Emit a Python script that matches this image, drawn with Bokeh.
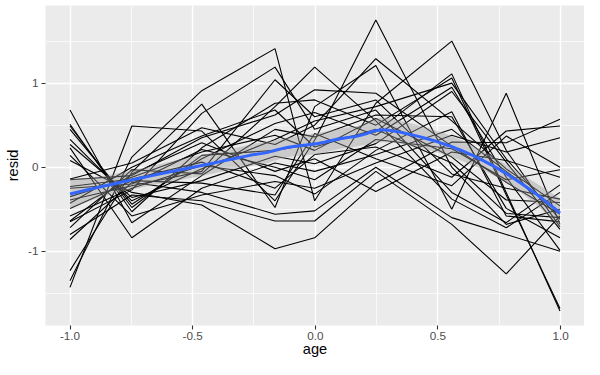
import numpy as np
from bokeh.plotting import figure
from bokeh.models import Range1d, FixedTicker, NumeralTickFormatter
from bokeh.embed import file_html
from bokeh.resources import INLINE

# ---- data ----
ages = [-1.0, -0.7479, -0.463, -0.1643, -0.0027, 0.2466, 0.5562, 0.7781, 0.9973]

s01 = [0.68, -0.66, -0.10, 0.45, 0.36, 0.62, 0.60, -0.49, -0.84]
s02 = [0.51, -0.53, 0.23, 0.76, 0.80, 0.50, 1.06, -0.33, -1.68]
s03 = [0.49, -0.48, 0.14, 0.20, 0.28, 0.42, 1.11, -0.30, -1.71]
s04 = [0.45, -0.44, 0.10, 0.52, 0.65, 0.38, 0.95, -0.12, -0.99]
s05 = [0.33, -0.40, -0.02, 0.33, 0.55, 0.72, 1.00, 0.10, -0.62]
s06 = [0.27, -0.36, -0.16, 0.13, 0.04, 0.28, 0.90, 0.06, -0.74]
s07 = [0.23, -0.84, -0.25, 0.05, -0.05, 0.15, 0.45, -0.05, -0.53]
s08 = [0.14, -0.58, -0.33, -0.17, -0.25, 0.05, 0.38, 0.18, 0.35]
s09 = [0.08, -0.30, -0.45, -0.97, -0.84, -0.19, 0.30, 0.29, 0.57]
s10 = [-0.14, 0.05, 0.47, 0.27, 0.50, 1.29, 0.55, -0.02, -0.46]
s11 = [-0.15, -0.10, 0.35, 0.62, 0.92, 0.88, 0.25, -0.18, -0.56]
s12 = [-0.23, -0.14, 0.06, -0.25, 0.15, 0.24, -0.12, 0.43, 0.49]
s13 = [-0.25, -0.20, 0.21, 0.00, -0.15, 0.33, 0.22, -0.15, -0.03]
s14 = [-0.35, -0.12, 0.18, 0.38, 0.20, 0.58, 0.12, -0.39, -0.42]
s15 = [-0.39, -0.22, -0.05, 1.04, 0.60, 0.80, -0.08, -0.25, -0.38]
s16 = [-0.43, 0.00, 0.37, 0.68, 0.24, 0.45, 0.05, -0.55, -0.60]
s17 = [-0.49, -0.16, -0.19, -0.33, 0.40, 0.10, -0.22, 0.37, 0.00]
s18 = [-0.58, -0.25, 0.02, -0.10, -0.32, 0.20, 0.66, -0.58, -0.65]
s19 = [-0.64, -0.08, 0.29, -0.05, 0.10, -0.29, 0.18, 0.08, -0.12]
s20 = [-0.65, -0.27, 0.64, 1.19, 0.45, 0.68, -0.30, -0.66, -0.21]
s21 = [-0.72, -0.03, -0.08, 0.72, 1.19, 0.55, -0.38, -0.72, -0.30]
s22 = [-1.43, 0.49, 0.43, -0.40, 0.32, 1.75, 0.00, -0.68, -0.50]
s23 = [-1.35, 0.12, 0.91, 1.41, -0.40, 0.76, 1.50, 0.20, -0.71]
s24 = [-1.23, -0.06, 0.75, -0.48, 0.72, 1.21, -0.50, 0.88, -0.68]
s25 = [-0.86, -0.18, -0.30, -0.56, -0.52, 0.00, -0.60, -0.80, -1.00]
s26 = [-0.80, -0.33, -0.40, -0.64, -0.64, -0.05, -0.68, -1.27, -0.58]

subjects = [s01, s02, s03, s04, s05, s06, s07, s08, s09, s10, s11, s12, s13,
            s14, s15, s16, s17, s18, s19, s20, s21, s22, s23, s24, s25, s26]

x_ticks = [-1.0, -0.5, 0.0, 0.5, 1.0]
x_minor = [-0.75, -0.25, 0.25, 0.75]
y_ticks = [-1, 0, 1]
y_minor = [-1.5, -0.5, 0.5, 1.5]

# ---- loess smooth (span 0.75, degree 2, tricube) like geom_smooth ----
X = np.tile(np.array(ages), len(subjects))
Y = np.concatenate([np.array(s, dtype=float) for s in subjects])
n = len(X)
q = int(np.floor(0.75 * n))


def smoother_row(x0):
    d = np.abs(X - x0)
    h = np.sort(d)[q - 1] * 1.0000001
    w = np.clip(1 - (d / h) ** 3, 0, None) ** 3
    B = np.column_stack([np.ones(n), X - x0, (X - x0) ** 2])
    BW = B * w[:, None]
    A = B.T @ BW
    return np.linalg.solve(A, BW.T)[0]


Lmat = np.array([smoother_row(x) for x in X])
resid = Y - Lmat @ Y
delta1 = n - 2 * np.trace(Lmat) + np.trace(Lmat.T @ Lmat)
sigma = np.sqrt(np.sum(resid ** 2) / delta1)

grid = np.linspace(X.min(), X.max(), 80)
rows = np.array([smoother_row(g) for g in grid])
fit = rows @ Y
se = sigma * np.sqrt(np.sum(rows ** 2, axis=1))
tq = 1.97
lower = fit - tq * se
upper = fit + tq * se

# ---- ranges with ggplot 5% expansion ----
xr = X.max() - X.min()
yr = Y.max() - Y.min()

p = figure(width=584, height=359, output_backend="svg", toolbar_location=None,
           x_range=Range1d(X.min() - 0.05 * xr, X.max() + 0.05 * xr),
           y_range=Range1d(Y.min() - 0.05 * yr, Y.max() + 0.05 * yr),
           min_border_left=45, min_border_right=0, min_border_top=5,
           min_border_bottom=0)

p.background_fill_color = "#EBEBEB"
p.border_fill_color = "white"
p.outline_line_color = None

p.multi_line(xs=[ages] * len(subjects), ys=subjects, line_color="black",
             line_width=1.1)
p.varea(x=grid, y1=lower, y2=upper, fill_color="#999999", fill_alpha=0.4)
p.line(grid, fit, line_color="#3366FF", line_width=3)

p.xaxis.ticker = FixedTicker(ticks=x_ticks, minor_ticks=x_minor)
p.yaxis.ticker = FixedTicker(ticks=y_ticks, minor_ticks=y_minor)
p.xaxis.formatter = NumeralTickFormatter(format="0.0")
p.yaxis.formatter = NumeralTickFormatter(format="0")

for g in (p.xgrid, p.ygrid):
    g.grid_line_color = "white"
    g.grid_line_width = 1.4
    g.minor_grid_line_color = "white"
    g.minor_grid_line_width = 0.7

for ax in (p.xaxis, p.yaxis):
    ax.axis_line_color = None
    ax.major_tick_line_color = "#333333"
    ax.major_tick_line_width = 1.1
    ax.major_tick_out = 4
    ax.major_tick_in = 0
    ax.minor_tick_line_color = None
    ax.major_label_text_font = "Liberation Sans"
    ax.major_label_text_font_size = "11.7px"
    ax.major_label_text_color = "#4D4D4D"
    ax.axis_label_text_font = "Liberation Sans"
    ax.axis_label_text_font_size = "14.6px"
    ax.axis_label_text_color = "black"
    ax.axis_label_text_font_style = "normal"
    ax.major_label_standoff = 3

p.xaxis.major_label_standoff = 2
p.xaxis.axis_label = "age"
p.yaxis.axis_label = "resid"
p.xaxis.axis_label_standoff = -2
p.yaxis.axis_label_standoff = 4

open("out.html", "w").write(file_html(p, INLINE))
